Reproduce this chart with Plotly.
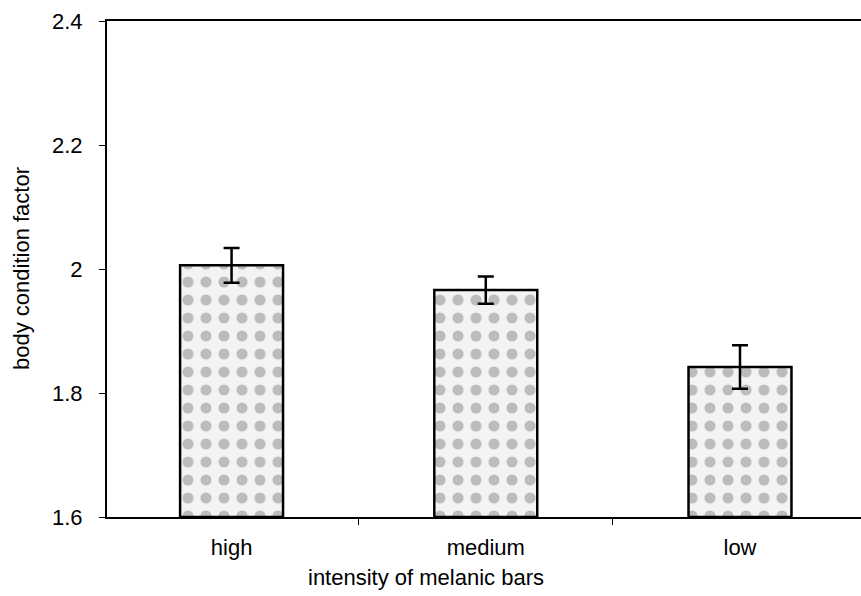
import plotly.graph_objects as go

categories = ["high", "medium", "low"]
means = [2.006, 1.966, 1.842]
errors = [0.028, 0.022, 0.035]
y_ticks = [1.6, 1.8, 2.0, 2.2, 2.4]
y_tick_labels = ["1.6", "1.8", "2", "2.2", "2.4"]
x_title = "intensity of melanic bars"
y_title = "body condition factor"

fig = go.Figure()
fig.add_trace(go.Bar(
    x=categories,
    y=[m - 1.6 for m in means],
    base=1.6,
    width=0.405,
    marker=dict(
        color="white",
        line=dict(color="black", width=2.5),
        pattern=dict(shape=".", fgcolor="#858585", bgcolor="#f3f3f3", size=18, solidity=0.3),
    ),
    error_y=dict(type="data", array=errors, visible=True, color="black", thickness=2.5, width=8),
    showlegend=False,
))

font = "Liberation Sans, Arial, Helvetica, sans-serif"
L, T, W, H = 107, 21, 754, 496
FW, FH = 861, 596
fig.update_layout(
    width=FW, height=FH,
    margin=dict(l=L, r=FW - L - W, t=T, b=FH - T - H, autoexpand=False),
    paper_bgcolor="white", plot_bgcolor="white",
    font=dict(family=font, size=22, color="black"),
    xaxis=dict(
        type="category", range=[-0.49, 2.476], automargin=False,
        showline=True, linecolor="black", linewidth=2, mirror=True,
        ticks="outside", tickson="boundaries", ticklen=6, tickcolor="black", tickwidth=1,
        tickfont=dict(size=22), ticklabelstandoff=10,
        showgrid=False, zeroline=False,
    ),
    yaxis=dict(
        range=[1.6, 2.4], tickvals=y_ticks, ticktext=y_tick_labels, automargin=False,
        showline=True, linecolor="black", linewidth=2, mirror=False,
        ticks="outside", ticklen=6, tickcolor="black", tickwidth=1,
        tickfont=dict(size=22), ticklabelstandoff=12,
        showgrid=False, zeroline=False,
    ),
    annotations=[
        dict(text=x_title, xref="paper", yref="paper", x=(426 - L) / W, y=0,
             yshift=-60, xanchor="center", yanchor="middle", showarrow=False,
             font=dict(size=22)),
        dict(text=y_title, xref="paper", yref="paper", x=0, y=0.5,
             xshift=-(L - 21), xanchor="center", yanchor="middle", showarrow=False,
             textangle=-90, font=dict(size=22)),
    ],
)
fig.write_html("out.html", config={"displayModeBar": False},
               post_script="document.body.style.margin='0';")
